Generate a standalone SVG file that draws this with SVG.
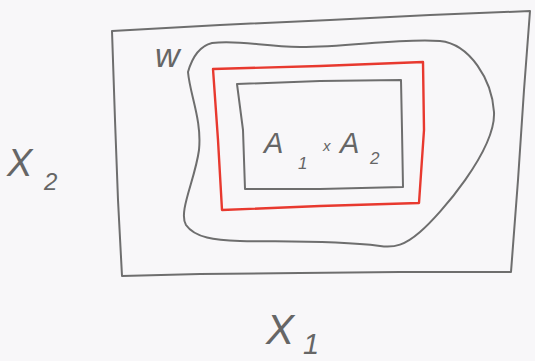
<svg xmlns="http://www.w3.org/2000/svg" width="535" height="361" viewBox="0 0 535 361">
<style>
.pen{fill:none;stroke:#6e6e6e;stroke-width:2;stroke-linejoin:round;stroke-linecap:round}
.red{fill:none;stroke:#e8392f;stroke-width:2.4;stroke-linejoin:round;stroke-linecap:round}
.lbl{font-family:"Liberation Sans",Arial,sans-serif;fill:#666;font-style:italic}
</style>
<rect width="535" height="361" fill="#f8f7f9"/>
<g id="outer-space">
<path class="pen" d="M112,31 L220,25 L330,20 L430,15 L530,11 L524,90 L518,180 L511,272 L400,272 L300,273 L200,274 L122,276 L118,200 L115,120 Z"/>
</g>
<g id="set-W">
<path class="pen" d="M188,72 C192,58 200,46 212,43 C240,40 260,46 300,47 C350,47 400,38 440,41 C470,44 492,80 494,112 C496,150 440,215 420,232 C405,245 395,248 380,246 C330,240 280,242 240,241 C215,240 195,238 186,225 C178,212 195,180 199,150 C202,120 190,95 188,72 Z"/>
</g>
<g id="red-box">
<path class="red" d="M213,69 L320,66 L423,62 L424,130 L419,203 L320,206 L222,210 L218,140 Z"/>
</g>
<g id="product-A1xA2">
<path class="pen" d="M237,84 L320,81 L401,80 L402,130 L403,187 L320,189 L245,189 L243,130 Z"/>
<text class="lbl" x="264" y="153" font-size="29">A</text>
<text class="lbl" x="298" y="169" font-size="17">1</text>
<text class="lbl" x="323" y="151" font-size="15">x</text>
<text class="lbl" x="340" y="153" font-size="29">A</text>
<text class="lbl" x="370" y="164" font-size="17">2</text>
</g>
<g id="label-W">
<text class="lbl" x="155" y="67" font-size="34">w</text>
</g>
<g id="label-X2">
<text class="lbl" x="7" y="176" font-size="38">X</text>
<text class="lbl" x="44" y="190" font-size="24">2</text>
</g>
<g id="label-X1">
<text class="lbl" x="266" y="344" font-size="42">X</text>
<text class="lbl" x="303" y="354" font-size="29">1</text>
</g>
</svg>
